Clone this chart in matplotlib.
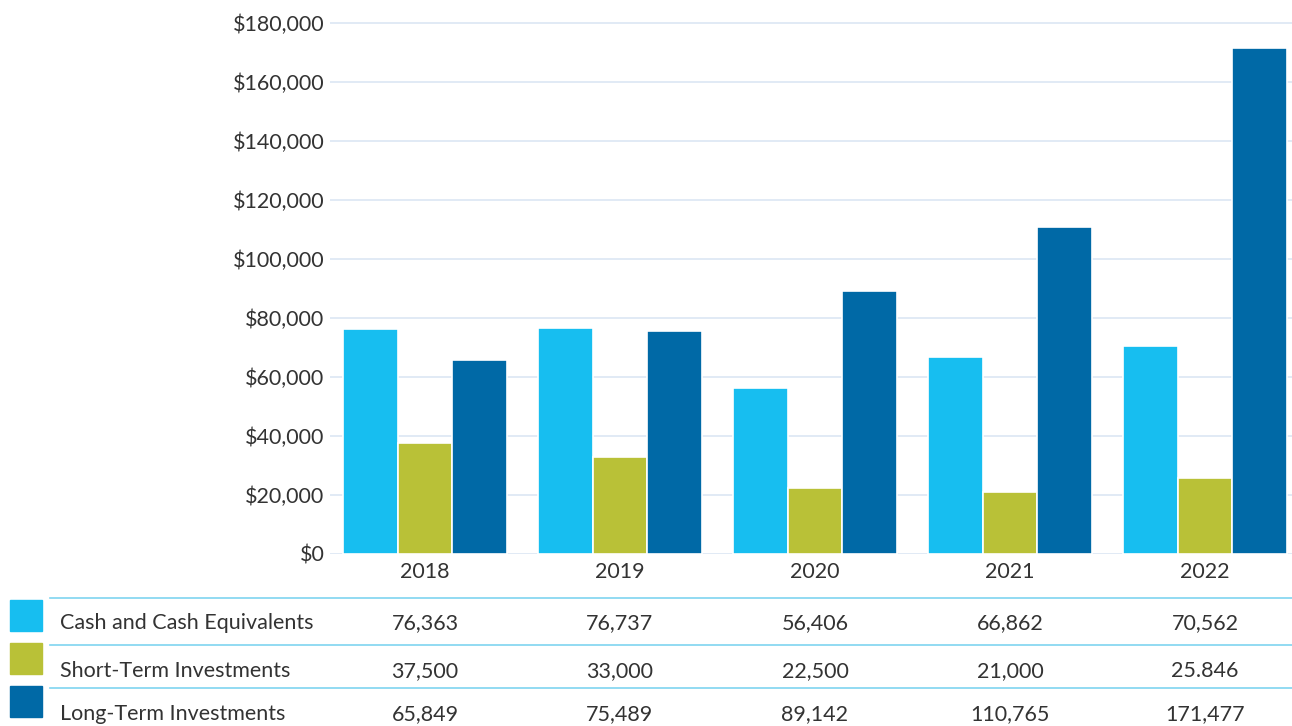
import matplotlib
matplotlib.use("Agg")
import matplotlib.pyplot as plt
import matplotlib.transforms as mtransforms
from matplotlib.lines import Line2D
from matplotlib.patches import Rectangle
import numpy as np

years = ["2018", "2019", "2020", "2021", "2022"]
series_names = ["Cash and Cash Equivalents", "Short-Term Investments", "Long-Term Investments"]
cash = [76363, 76737, 56406, 66862, 70562]
short_term = [37500, 33000, 22500, 21000, 25846]
long_term = [65849, 75489, 89142, 110765, 171477]
# table text as printed in the source (note the "25.846")
cash_lbl = ["76,363", "76,737", "56,406", "66,862", "70,562"]
short_lbl = ["37,500", "33,000", "22,500", "21,000", "25.846"]
long_lbl = ["65,849", "75,489", "89,142", "110,765", "171,477"]
yticks = [0, 20000, 40000, 60000, 80000, 100000, 120000, 140000, 160000, 180000]

colors = ["#17BEF0", "#B9C137", "#0069A6"]
text_col = "#333333"
plt.rcParams["font.family"] = ["Lato", "DejaVu Sans"]

W, H = 1292, 726
fig = plt.figure(figsize=(W / 100, H / 100), dpi=100)
ax = fig.add_axes([330 / W, 1 - 554 / H, 1 - 330 / W, (554 - 15) / H])

x = np.arange(len(years))
bw = 0.28
for i, vals in enumerate([cash, short_term, long_term]):
    ax.bar(x + (i - 1) * bw, vals, width=bw, color=colors[i],
           edgecolor="white", linewidth=1.2, zorder=3)

ax.set_xlim(-0.487, 4.446)
ax.set_ylim(0, 180000 * 539 / 531)
ax.set_yticks(yticks)
ax.set_yticklabels(["${:,}".format(v) for v in yticks])
ax.set_xticks(x)
ax.set_xticklabels(years)
ax.grid(axis="y", color="#dbe6f4", linewidth=1.2, zorder=0)
for s in ax.spines.values():
    s.set_visible(False)
ax.tick_params(axis="both", length=0, labelsize=15.5, labelcolor=text_col)
ax.tick_params(axis="x", pad=6)
ax.tick_params(axis="y", pad=4)

# data table below the chart
trans = mtransforms.blended_transform_factory(ax.transData, fig.transFigure)
row_text_y = [623, 671, 714]
row_line_y = [598, 645, 688]
swatch_top = [600, 643, 686]
for r, (name, labels) in enumerate(zip(series_names, [cash_lbl, short_lbl, long_lbl])):
    fig.add_artist(Line2D([50 / W, 1], [1 - row_line_y[r] / H] * 2,
                          color="#7fd4f0", linewidth=1.2, transform=fig.transFigure))
    fig.add_artist(Rectangle((10 / W, 1 - (swatch_top[r] + 31) / H), 32 / W, 31 / H,
                             color=colors[r], transform=fig.transFigure))
    fig.text(60 / W, 1 - row_text_y[r] / H, name, fontsize=15.5, color=text_col,
             va="center", ha="left")
    for j, lbl in enumerate(labels):
        fig.text(x[j], 1 - row_text_y[r] / H, lbl, fontsize=15.5, color=text_col,
                 va="center", ha="center", transform=trans)

fig.savefig("out.png", dpi=100)
